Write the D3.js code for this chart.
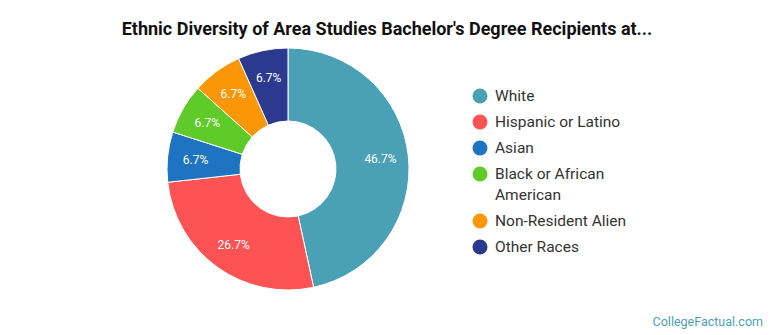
<!DOCTYPE html>
<html>
<head>
<meta charset="utf-8">
<script src="https://cdn.jsdelivr.net/npm/d3@7"></script>
<style>
  body { margin: 0; background: #fff; }
  svg { font-family: Roboto, "Open Sans", sans-serif; }
</style>
</head>
<body>
<svg width="770" height="335"></svg>
<script>
// data
const categories = ["White", "Hispanic or Latino", "Asian", "Black or African American", "Non-Resident Alien", "Other Races"];
const values = [46.7, 26.7, 6.7, 6.7, 6.7, 6.7];
const legendLines = [["White"], ["Hispanic or Latino"], ["Asian"], ["Black or African", "American"], ["Non-Resident Alien"], ["Other Races"]];
const colors = ["#4aa0b4", "#fd5355", "#1f74c1", "#5ecb28", "#fb9606", "#2b3a8f"];

let svg = d3.select("svg");

let color = d3.scaleOrdinal(categories, colors);

// title
svg.append("text")
    .attr("x", 387)
    .attr("y", 35)
    .attr("text-anchor", "middle")
    .attr("font-size", 18)
    .attr("font-weight", "bold")
    .attr("fill", "#111")
    .text("Ethnic Diversity of Area Studies Bachelor's Degree Recipients at...");

// donut
const cx = 288, cy = 169, outerR = 121, innerR = 48;
let pie = d3.pie().sort(null).value(d => d.value);
let arc = d3.arc().innerRadius(innerR).outerRadius(outerR);
let labelArc = d3.arc().innerRadius(93).outerRadius(93);

let data = categories.map((c, i) => ({name: c, value: values[i]}));

let g = svg.append("g").attr("transform", `translate(${cx},${cy})`);

g.selectAll("path")
    .data(pie(data))
    .enter().append("path")
    .attr("d", arc)
    .attr("fill", d => color(d.data.name))
    .attr("stroke", "#fff")
    .attr("stroke-width", 1);

g.selectAll("text")
    .data(pie(data))
    .enter().append("text")
    .attr("transform", d => `translate(${labelArc.centroid(d)})`)
    .attr("text-anchor", "middle")
    .attr("dy", "0.35em")
    .attr("font-size", 12)
    .attr("fill", "#fff")
    .text(d => d.data.value.toFixed(1) + "%");

// legend
const rowY = [96, 122, 148, 174, 221, 247];
let legend = svg.append("g");
let items = legend.selectAll("g")
    .data(categories)
    .enter().append("g")
    .attr("transform", (d, i) => `translate(480,${rowY[i]})`);

items.append("circle")
    .attr("r", 7.5)
    .attr("fill", d => color(d));

items.append("text")
    .attr("x", 15)
    .attr("font-size", 15.5)
    .attr("fill", "#333")
    .selectAll("tspan")
    .data((d, i) => legendLines[i])
    .enter().append("tspan")
    .attr("x", 15)
    .attr("y", (d, j) => j * 21)
    .attr("dy", "0.35em")
    .text(d => d);

// credit
svg.append("text")
    .attr("x", 763)
    .attr("y", 326)
    .attr("text-anchor", "end")
    .attr("font-size", 12.5)
    .attr("fill", "#4d9fb3")
    .text("CollegeFactual.com");
</script>
</body>
</html>
